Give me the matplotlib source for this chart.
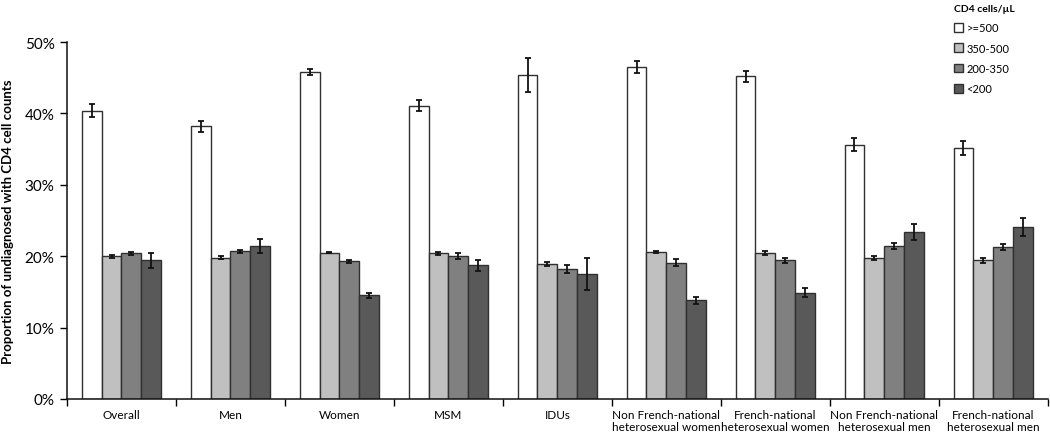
import matplotlib
matplotlib.use("Agg")
import matplotlib.pyplot as plt
import numpy as np

plt.rcParams['font.family'] = ['Lato', 'DejaVu Sans']

categories = ["Overall", "Men", "Women", "MSM", "IDUs",
              "Non French-national\nheterosexual women",
              "French-national\nheterosexual women",
              "Non French-national\nheterosexual men",
              "French-national\nheterosexual men"]
series_names = [">=500", "350-500", "200-350", "<200"]

v_500 = [40.4, 38.2, 45.8, 41.1, 45.4, 46.5, 45.2, 35.6, 35.2]
v_350 = [20.0, 19.8, 20.5, 20.4, 18.9, 20.6, 20.5, 19.7, 19.4]
v_200 = [20.4, 20.7, 19.3, 20.0, 18.2, 19.1, 19.4, 21.4, 21.3]
v_lt200 = [19.4, 21.4, 14.5, 18.7, 17.5, 13.8, 14.9, 23.4, 24.1]

e_500 = [0.9, 0.8, 0.45, 0.8, 2.4, 0.8, 0.8, 0.9, 1.0]
e_350 = [0.2, 0.2, 0.1, 0.2, 0.3, 0.2, 0.3, 0.3, 0.4]
e_200 = [0.2, 0.2, 0.2, 0.4, 0.6, 0.5, 0.3, 0.4, 0.4]
e_lt200 = [1.0, 0.95, 0.3, 0.8, 2.2, 0.5, 0.6, 1.1, 1.3]

values = [v_500, v_350, v_200, v_lt200]
errors = [e_500, e_350, e_200, e_lt200]
colors = ["#ffffff", "#c0c0c0", "#808080", "#595959"]

fig = plt.figure(figsize=(10.5, 4.35), dpi=100)
ax = fig.add_axes([0.0638, 0.0805, 0.9342, 0.8205])

n = len(categories)
x = np.arange(n)
w = 0.183
for i, (vals, errs, c, name) in enumerate(zip(values, errors, colors, series_names)):
    pos = x + (i - 1.5) * w
    ax.bar(pos, vals, width=w, color=c, edgecolor="#303030", linewidth=1.0,
           label=name, zorder=2)
    ax.errorbar(pos, vals, yerr=errs, fmt="none", ecolor="#111111",
                elinewidth=1.3, capsize=2.5, capthick=1.3, zorder=3)

ax.set_xlim(-0.5, n - 0.5)
ax.set_ylim(0, 50)
ax.set_yticks(np.arange(0, 51, 10))
ax.set_yticklabels([f"{t}%" for t in range(0, 51, 10)], fontsize=11)
ax.set_xticks(x)
ax.set_xticklabels(categories, fontsize=8.5, linespacing=1.1)
ax.tick_params(axis="x", length=0, pad=7)
ax.set_xticks(np.arange(-0.5, n, 1.0), minor=True)
ax.tick_params(axis="x", which="minor", length=5, direction="out", width=1)
ax.tick_params(axis="y", length=5, direction="out", width=1, pad=4)

for s in ["top", "right"]:
    ax.spines[s].set_visible(False)
for s in ["left", "bottom"]:
    ax.spines[s].set_linewidth(1.1)
    ax.spines[s].set_color("#111111")

ax.set_ylabel("Proportion of undiagnosed with CD4 cell counts",
              fontsize=9.5, fontweight="bold", labelpad=8)

leg = ax.legend(loc="upper left", bbox_to_anchor=(0.90, 1.12),
                frameon=False, fontsize=8, title="CD4 cells/µL",
                title_fontproperties={"weight": "bold", "size": 7.5},
                handlelength=0.8, handleheight=0.8, handletextpad=0.3,
                labelspacing=0.85, borderaxespad=0)
leg._legend_box.align = "left"

fig.savefig("out.png", dpi=100)
